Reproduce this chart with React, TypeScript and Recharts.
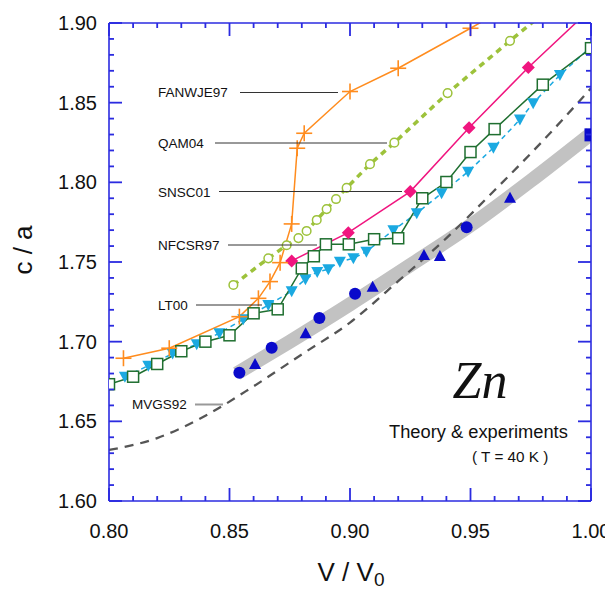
import React from 'react';
import { ComposedChart, Line, XAxis, YAxis } from 'recharts';

// ---------- data ----------
const fanwje97V = [0.806, 0.825, 0.8541, 0.862, 0.8668, 0.871, 0.8758, 0.8781, 0.881, 0.9, 0.92, 0.95, 0.97];
const fanwje97CA = [1.6896, 1.6959, 1.7157, 1.7272, 1.7377, 1.7496, 1.7739, 1.8214, 1.8308, 1.857, 1.8716, 1.8967, 1.914];

const qam04V = [0.8516, 0.8661, 0.8737, 0.8786, 0.882, 0.8862, 0.8903, 0.8942, 0.8986, 0.9083, 0.9184, 0.9405, 0.9664, 0.985];
const qam04CA = [1.7356, 1.7523, 1.7605, 1.765, 1.7695, 1.7764, 1.7832, 1.7895, 1.7965, 1.8114, 1.8249, 1.856, 1.8888, 1.912];

const snsc01V = [0.8758, 0.8993, 0.925, 0.9494, 0.974, 1.0];
const snsc01CA = [1.7507, 1.7684, 1.7942, 1.8342, 1.8721, 1.909];

const nfcsr97V = [0.8, 0.81, 0.82, 0.83, 0.84, 0.85, 0.86, 0.87, 0.88, 0.885, 0.89, 0.8995, 0.91, 0.92, 0.93, 0.94, 0.95, 0.96, 0.98, 1.0];
const nfcsr97CA = [1.6733, 1.678, 1.686, 1.694, 1.7, 1.704, 1.7178, 1.7203, 1.746, 1.7536, 1.7611, 1.7611, 1.7643, 1.7649, 1.79, 1.8002, 1.819, 1.8334, 1.8613, 1.8842];

const lt00V = [0.8066, 0.8163, 0.8264, 0.8364, 0.8458, 0.8557, 0.8661, 0.8758, 0.8815, 0.8864, 0.891, 0.8958, 0.9014, 0.9068, 0.918, 0.9277, 0.938, 0.949, 0.9595, 0.9705, 0.976, 0.9871, 1.0];
const lt00CA = [1.678, 1.6849, 1.6925, 1.6984, 1.7053, 1.714, 1.723, 1.7317, 1.7392, 1.7438, 1.7455, 1.7502, 1.7523, 1.7565, 1.77, 1.7806, 1.7931, 1.8067, 1.8217, 1.8394, 1.8497, 1.8674, 1.885];

const mvgs92V = [0.8, 0.82, 0.84, 0.86, 0.88, 0.9, 0.92, 0.94, 0.96, 0.98, 1.0];
const mvgs92CA = [1.632, 1.6395, 1.6535, 1.672, 1.692, 1.712, 1.738, 1.765, 1.795, 1.826, 1.859];

const bandV = [0.853, 0.875, 0.9, 0.925, 0.95, 0.975, 1.0];
const bandCA = [1.68, 1.7, 1.7235, 1.748, 1.773, 1.801, 1.8305];

const expCircleV = [0.8541, 0.8675, 0.8873, 0.9021, 0.9484];
const expCircleCA = [1.6805, 1.6962, 1.7149, 1.73, 1.7718];

const expTriV = [0.8606, 0.8816, 0.9094, 0.9307, 0.9373, 0.9664];
const expTriCA = [1.686, 1.7053, 1.7345, 1.7544, 1.7538, 1.7904];

const expSquareV = [1.0];
const expSquareCA = [1.8298];

const xMajorTicks = [0.8, 0.85, 0.9, 0.95, 1.0];
const xAllTicks = [0.8, 0.81, 0.82, 0.83, 0.84, 0.85, 0.86, 0.87, 0.88, 0.89, 0.9, 0.91, 0.92, 0.93, 0.94, 0.95, 0.96, 0.97, 0.98, 0.99, 1.0];
const yMajorTicks = [1.6, 1.65, 1.7, 1.75, 1.8, 1.85, 1.9];
const yAllTicks = [1.6, 1.61, 1.62, 1.63, 1.64, 1.65, 1.66, 1.67, 1.68, 1.69, 1.7, 1.71, 1.72, 1.73, 1.74, 1.75, 1.76, 1.77, 1.78, 1.79, 1.8, 1.81, 1.82, 1.83, 1.84, 1.85, 1.86, 1.87, 1.88, 1.89, 1.9];

const X_MIN = 0.8;
const X_MAX = 1.0;
const Y_MIN = 1.6;
const Y_MAX = 1.9;

const zip = (v: number[], ca: number[]) => v.map((x, i) => ({ v: x, ca: ca[i] }));

// ---------- layout & styling ----------
const W = 605;
const H = 581;
const M = { top: 14, left: 100, right: 21, bottom: 87 };
const AXW = 1; // width/height given to each axis
const PLOT_L = M.left + AXW;
const PLOT_T = M.top + AXW;
const PLOT_R = W - M.right - AXW;
const PLOT_B = H - M.bottom - AXW;
const sx = (v: number) => PLOT_L + ((v - X_MIN) / (X_MAX - X_MIN)) * (PLOT_R - PLOT_L);
const sy = (v: number) => PLOT_B - ((v - Y_MIN) / (Y_MAX - Y_MIN)) * (PLOT_B - PLOT_T);

const AXIS = '#2b2be0';
const FONT = '"Liberation Sans", Arial, Helvetica, sans-serif';
const ORANGE = '#ff8c1e';
const YGREEN = '#9dc23b';
const PINK = '#f0157f';
const DGREEN = '#1f6f30';
const CYAN = '#1ba9e1';
const BLUE = '#0a0acb';
const MAJ = 13;
const MIN = 5;
const TW = 1.8; // tick thickness

const isMajor = (v: number, list: number[]) => list.some((m) => Math.abs(m - v) < 1e-6);

const BottomTick = (props: any) => {
  const { x, y, payload } = props;
  if (!isMajor(payload.value, xMajorTicks)) return <g />;
  return (
    <text x={x} y={Number(y) + 37} textAnchor="middle" fontSize={20} fill="#111" fontFamily={FONT}>
      {Number(payload.value).toFixed(2)}
    </text>
  );
};
const LeftTick = (props: any) => {
  const { x, y, payload } = props;
  if (!isMajor(payload.value, yMajorTicks)) return <g />;
  return (
    <text x={Number(x) - 12} y={Number(y) + 7} textAnchor="end" fontSize={20} fill="#111" fontFamily={FONT}>
      {Number(payload.value).toFixed(2)}
    </text>
  );
};

const makeDot = (kind: string, color: string) => (props: any) => {
  const { cx, cy, index, payload } = props;
  const k = `d${index}`;
  if (cx == null || cy == null || !payload || payload.ca > Y_MAX + 0.0005) return <g key={k} />;
  switch (kind) {
    case 'plus':
      return (
        <g key={k} stroke={color} strokeWidth={1.6}>
          <line x1={cx - 8} x2={cx + 8} y1={cy} y2={cy} />
          <line x1={cx} x2={cx} y1={cy - 8} y2={cy + 8} />
        </g>
      );
    case 'ocircle':
      return <circle key={k} cx={cx} cy={cy} r={4.3} fill="#fff" stroke={color} strokeWidth={1.5} />;
    case 'diamond':
      return <polygon key={k} points={`${cx},${cy - 6.5} ${cx + 6.5},${cy} ${cx},${cy + 6.5} ${cx - 6.5},${cy}`} fill={color} />;
    case 'osquare':
      return <rect key={k} x={cx - 5.5} y={cy - 5.5} width={11} height={11} fill="#fff" stroke={color} strokeWidth={1.5} />;
    case 'tridown':
      return <polygon key={k} points={`${cx - 6},${cy - 5} ${cx + 6},${cy - 5} ${cx},${cy + 6}`} fill={color} />;
    case 'triup':
      return <polygon key={k} points={`${cx - 6},${cy + 5} ${cx + 6},${cy + 5} ${cx},${cy - 6}`} fill={color} />;
    case 'circle':
      return <circle key={k} cx={cx} cy={cy} r={6} fill={color} />;
    case 'square':
      return <rect key={k} x={cx - 6.5} y={cy - 6.5} width={13} height={13} fill={color} />;
    default:
      return <g key={k} />;
  }
};

const labelStyle = { fontFamily: FONT, fontSize: 13.5, fill: '#111' } as const;

function TickMarks() {
  const items: React.ReactNode[] = [];
  xAllTicks.forEach((v, i) => {
    const len = isMajor(v, xMajorTicks) ? MAJ : MIN;
    const x = sx(v);
    items.push(<rect key={`xb${i}`} x={x - TW / 2} y={PLOT_B - len} width={TW} height={len} fill={AXIS} />);
    items.push(<rect key={`xt${i}`} x={x - TW / 2} y={PLOT_T} width={TW} height={len} fill={AXIS} />);
  });
  yAllTicks.forEach((v, i) => {
    const len = isMajor(v, yMajorTicks) ? MAJ : MIN;
    const y = sy(v);
    items.push(<rect key={`yl${i}`} x={PLOT_L} y={y - TW / 2} width={len} height={TW} fill={AXIS} />);
    items.push(<rect key={`yr${i}`} x={PLOT_R - len} y={y - TW / 2} width={len} height={TW} fill={AXIS} />);
  });
  return <g>{items}</g>;
}

export default function App() {
  return (
    <div style={{ position: 'relative', width: W, height: H }}>
      <ComposedChart width={W} height={H} margin={M}>
        <XAxis
          xAxisId={0}
          dataKey="v"
          type="number"
          domain={[X_MIN, X_MAX]}
          allowDataOverflow
          ticks={xAllTicks}
          interval={0}
          tick={BottomTick}
          tickLine={false}
          tickSize={0}
          tickMargin={0}
          height={AXW}
          axisLine={{ stroke: AXIS, strokeWidth: 1.6 }}
        />
        <XAxis
          xAxisId="top"
          orientation="top"
          dataKey="v"
          type="number"
          domain={[X_MIN, X_MAX]}
          allowDataOverflow
          tick={false}
          tickLine={false}
          height={AXW}
          axisLine={{ stroke: AXIS, strokeWidth: 1.6 }}
        />
        <YAxis
          yAxisId={0}
          type="number"
          domain={[Y_MIN, Y_MAX]}
          allowDataOverflow
          ticks={yAllTicks}
          interval={0}
          tick={LeftTick}
          tickLine={false}
          tickSize={0}
          tickMargin={0}
          width={AXW}
          axisLine={{ stroke: AXIS, strokeWidth: 1.6 }}
        />
        <YAxis
          yAxisId="right"
          orientation="right"
          type="number"
          domain={[Y_MIN, Y_MAX]}
          allowDataOverflow
          tick={false}
          tickLine={false}
          width={AXW}
          axisLine={{ stroke: AXIS, strokeWidth: 1.6 }}
        />

        <Line data={zip(bandV, bandCA)} dataKey="ca" type="monotone" stroke="#c2c2c2" strokeWidth={14} dot={false} activeDot={false} isAnimationActive={false} />
        <Line data={zip(mvgs92V, mvgs92CA)} dataKey="ca" type="monotone" stroke="#555" strokeWidth={2.3} strokeDasharray="9 7" dot={false} activeDot={false} isAnimationActive={false} />
        <Line data={zip(expCircleV, expCircleCA)} dataKey="ca" stroke="none" dot={makeDot('circle', BLUE)} activeDot={false} isAnimationActive={false} />
        <Line data={zip(expTriV, expTriCA)} dataKey="ca" stroke="none" dot={makeDot('triup', BLUE)} activeDot={false} isAnimationActive={false} />
        <Line data={zip(expSquareV, expSquareCA)} dataKey="ca" stroke="none" dot={makeDot('square', BLUE)} activeDot={false} isAnimationActive={false} />
        <Line data={zip(lt00V, lt00CA)} dataKey="ca" stroke={CYAN} strokeWidth={1.5} strokeDasharray="5 4" dot={makeDot('tridown', CYAN)} activeDot={false} isAnimationActive={false} />
        <Line data={zip(nfcsr97V, nfcsr97CA)} dataKey="ca" stroke={DGREEN} strokeWidth={1.5} dot={makeDot('osquare', DGREEN)} activeDot={false} isAnimationActive={false} />
        <Line data={zip(snsc01V, snsc01CA)} dataKey="ca" stroke={PINK} strokeWidth={1.5} dot={makeDot('diamond', PINK)} activeDot={false} isAnimationActive={false} />
        <Line data={zip(qam04V, qam04CA)} dataKey="ca" stroke={YGREEN} strokeWidth={3.5} strokeDasharray="6 5" dot={makeDot('ocircle', YGREEN)} activeDot={false} isAnimationActive={false} />
        <Line data={zip(fanwje97V, fanwje97CA)} dataKey="ca" stroke={ORANGE} strokeWidth={1.5} dot={makeDot('plus', ORANGE)} activeDot={false} isAnimationActive={false} />
      </ComposedChart>

      <svg width={W} height={H} style={{ position: 'absolute', left: 0, top: 0, pointerEvents: 'none' }}>
        <TickMarks />
        <g stroke="#333" strokeWidth={1}>
          <line x1={232} x2={330} y1={84.5} y2={84.5} />
          <line x1={207} x2={379} y1={135} y2={135} />
          <line x1={211} x2={394} y1={183.5} y2={183.5} />
          <line x1={220} x2={309} y1={237} y2={237} />
          <line x1={188} x2={254} y1={297} y2={297} />
        </g>
        <line x1={187} x2={215} y1={396.5} y2={396.5} stroke="#999" strokeWidth={2} />
        <text x={150} y={89} {...labelStyle}>FANWJE97</text>
        <text x={150} y={140} {...labelStyle}>QAM04</text>
        <text x={150} y={188.5} {...labelStyle}>SNSC01</text>
        <text x={150} y={242} {...labelStyle}>NFCSR97</text>
        <text x={150} y={302} {...labelStyle}>LT00</text>
        <text x={124} y={401} {...labelStyle}>MVGS92</text>

        <text x={472} y={390} textAnchor="middle" fontFamily='"Liberation Serif", "Times New Roman", serif' fontStyle="italic" fontSize={52} fill="#111">Zn</text>
        <text x={381} y={430} fontFamily={FONT} fontSize={18.3} fill="#111">Theory &amp; experiments</text>
        <text x={464} y={454} fontFamily={FONT} fontSize={15.3} fill="#111">( T = 40 K )</text>

        <text transform="translate(24,242) rotate(-90)" textAnchor="middle" fontFamily={FONT} fontSize={26} fill="#111">c / a</text>
        <text x={343} y={573} textAnchor="middle" fontFamily={FONT} fontSize={26} fill="#111">
          V / V<tspan fontSize={19} dy={5}>0</tspan>
        </text>
      </svg>
    </div>
  );
}
